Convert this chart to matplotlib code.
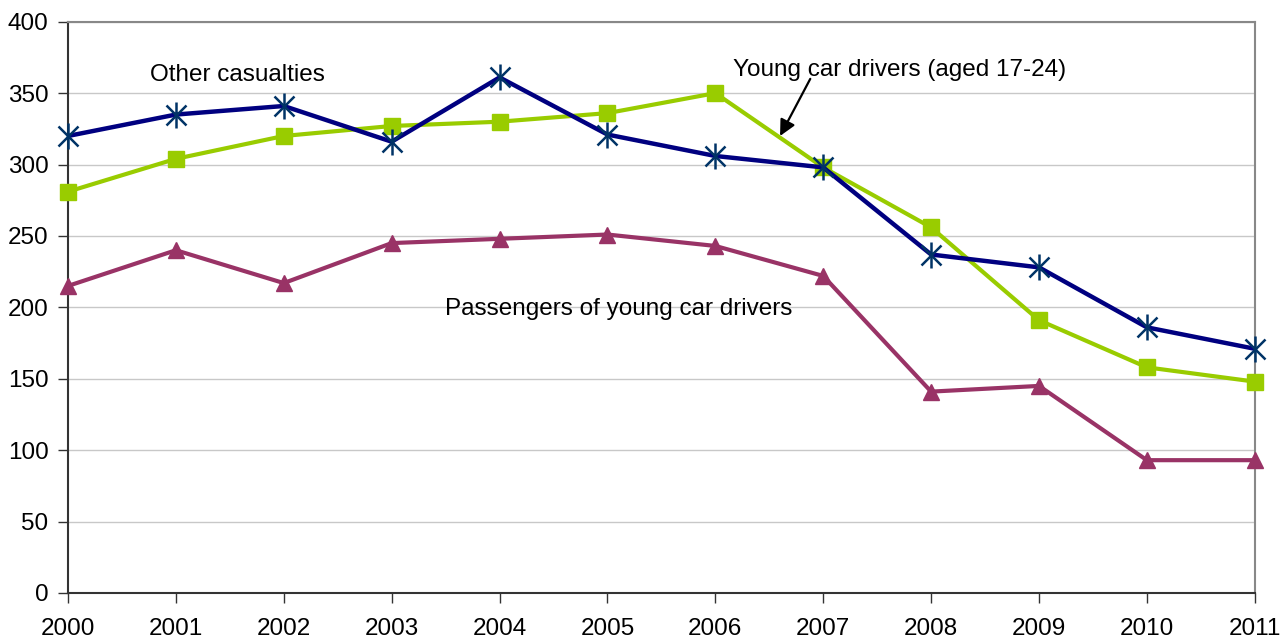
import matplotlib
matplotlib.use("Agg")
import matplotlib.pyplot as plt

plt.rcParams['font.family'] = ['Liberation Sans', 'DejaVu Sans']

years = [2000, 2001, 2002, 2003, 2004, 2005, 2006, 2007, 2008, 2009, 2010, 2011]
other_casualties = [320, 335, 341, 316, 361, 321, 306, 298, 237, 228, 186, 171]
young_drivers = [281, 304, 320, 327, 330, 336, 350, 298, 256, 191, 158, 148]
passengers = [215, 240, 217, 245, 248, 251, 243, 222, 141, 145, 93, 93]
y_ticks = [0, 50, 100, 150, 200, 250, 300, 350, 400]

fig = plt.figure(figsize=(12.83, 6.39), dpi=100)
ax = fig.add_axes([0.053, 0.072, 0.925, 0.894])

ax.plot(years, passengers, color='#993366', lw=3, marker='^', ms=12,
        mfc='#993366', mec='#993366', zorder=3, clip_on=False)
ax.plot(years, young_drivers, color='#99CC00', lw=3, marker='s', ms=11,
        mfc='#99CC00', mec='#99CC00', zorder=4, clip_on=False)
ax.plot(years, other_casualties, color='#000080', lw=3.2, zorder=5)
# star marker: a cross with a vertical stroke
ax.plot(years, other_casualties, ls='none', marker='x', ms=15,
        mec='#003366', mew=1.8, zorder=6, clip_on=False)
ax.plot(years, other_casualties, ls='none', marker='|', ms=19,
        mec='#003366', mew=1.8, zorder=6, clip_on=False)

ax.set_xlim(2000, 2011)
ax.set_ylim(0, 400)
ax.set_xticks(years)
ax.set_yticks(y_ticks)
ax.tick_params(axis='both', labelsize=17.5, colors='#333333', labelcolor='black',
               direction='out', length=7, width=1)
ax.tick_params(axis='x', pad=11)
ax.tick_params(axis='y', pad=7)
ax.grid(axis='y', color='#c8c8c8', lw=1)
ax.set_axisbelow(True)

for side in ('left', 'bottom'):
    ax.spines[side].set_color('#333333')
    ax.spines[side].set_linewidth(1.5)
for side in ('top', 'right'):
    ax.spines[side].set_color('#888888')
    ax.spines[side].set_linewidth(1.5)

ax.text(2001.57, 363, 'Other casualties', fontsize=17.5, ha='center', va='center')
ax.text(2007.71, 366, 'Young car drivers (aged 17-24)', fontsize=17.5,
        ha='center', va='center')
ax.text(2005.1, 199, 'Passengers of young car drivers', fontsize=17.5,
        ha='center', va='center')
ax.annotate('', xy=(2006.6, 320), xytext=(2006.88, 360),
            arrowprops=dict(arrowstyle='-|>', color='black', lw=1.6,
                            mutation_scale=24, shrinkA=0, shrinkB=0))

fig.savefig('out.png', dpi=100)
